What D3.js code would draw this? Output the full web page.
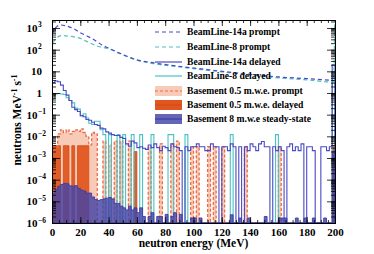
<!DOCTYPE html>
<html>
<head>
<meta charset="utf-8">
<script src="https://cdn.jsdelivr.net/npm/d3@7"></script>
<style>
  body { margin: 0; background: #fff; }
  svg { display: block; }
  text { font-family: "Liberation Serif", "Times New Roman", serif; font-weight: bold; }
</style>
</head>
<body>
<div id="chart"></div>
<script>
// histogram bins: 2 MeV wide, 0..200 MeV
const binWidth = 2;
const nBins = 100;

// BeamLine prompt spectra (smooth curves) : energy / value pairs
const bl14aPromptE = [0, 1.5, 3, 6, 10, 15, 20, 25, 30, 35, 40, 50, 60, 73, 90, 110, 130, 150, 160, 180, 199];
const bl14aPromptV = [500, 800, 1100, 1380, 1250, 950, 600, 420, 280, 170, 118, 60, 34, 24, 17, 12, 8.5, 6.3, 5.5, 4.6, 3.8];
const bl8PromptE = [0, 1.5, 3, 7, 12, 20, 27, 33, 40, 50, 60, 73, 90, 110, 130, 150, 160, 180, 199, 200];
const bl8PromptV = [100, 260, 340, 450, 420, 330, 200, 140, 110, 57, 33, 22, 16, 11, 8, 5.8, 5, 4, 3.2, 1e5];

// delayed / basement histograms (per 2 MeV bin, 0 = empty bin)
const bl14aDelayed = [
  3.0, 3.6, 3.3, 2.3, 1.3, 0.8, 0.45, 0.22, 0.17, 0.14,
  0.09, 0.08, 0.06, 0.055, 0.045, 0.035, 0.032, 0.024, 0.022, 0.016,
  0.014, 0.012, 0.011, 0.011, 0.009, 0.008, 0.0045, 0.0035, 0.006, 0.005,
  0.003, 0.0033, 0.0028, 0.0025, 0.004, 0.003, 0.0045, 0.003, 0.0022, 0.0035,
  0.003, 0.0022, 0.0045, 0.0033, 0.003, 0.0022, 0, 0.0033, 0.0022, 0.0033,
  0.0033, 0.0045, 0.0033, 0.0033, 0.0022, 0.0022, 0.0045, 0.0033, 0.0033, 0,
  0.0033, 0.0033, 0.0022, 0.0045, 0.0033, 0, 0.0033, 0, 0.0033, 0.0022,
  0.0045, 0.0033, 0.0022, 0.0045, 0.0058, 0.0033, 0.0033, 0, 0.0033, 0.0022,
  0.0033, 0.0022, 0, 0.0033, 0.0045, 0.0022, 0.0033, 0.0022, 0.0045, 0,
  0.0033, 0.0033, 0.0022, 0, 0, 0.0033, 0.0033, 0.0022, 0.0033, 20
];
const bl8Delayed = [
  0.55, 0.9, 0.95, 0.9, 0.85, 0.6, 0.45, 0.35, 0.2, 0.18,
  0.09, 0.11, 0.07, 0.04, 0.035, 0.05, 0.05, 0.02, 0.012, 0,
  0.012, 0, 0, 0.012, 0, 0.012, 0, 0, 0.012, 0,
  0, 0.012, 0, 0, 0, 0.012, 0, 0, 0, 0,
  0, 0.012, 0.012, 0, 0, 0, 0, 0.012, 0, 0,
  0, 0, 0, 0, 0, 0, 0, 0, 0, 0,
  0, 0, 0, 0.012, 0, 0, 0, 0, 0, 0,
  0, 0, 0, 0, 0, 0, 0, 0, 0, 0.012,
  0, 0, 0, 0, 0, 0, 0, 0, 0, 0,
  0, 0, 0, 0, 0, 0, 0, 0, 0, 5
];
const basementPrompt = [
  0.002, 0.003, 0.013, 0.02, 0.015, 0.02, 0.013, 0.017, 0.02, 0.017,
  0.022, 0.015, 0.01, 0.004, 0.015, 0.013, 0, 0, 0.006, 0,
  0.004, 0, 0.006, 0, 0.006, 0, 0, 0.006, 0, 0,
  0, 0, 0, 0, 0.0033, 0, 0, 0, 0.0045, 0,
  0, 0, 0.0045, 0, 0.006, 0, 0, 0, 0, 0.0033,
  0, 0.0033, 0, 0, 0, 0.0033, 0, 0.0033, 0, 0,
  0.0033, 0, 0, 0, 0, 0, 0, 0, 0.0033, 0,
  0, 0, 0, 0, 0, 0, 0, 0, 0, 0,
  0.0033, 0, 0, 0, 0, 0, 0, 0, 0, 0,
  0, 0, 0, 0, 0, 0, 0, 0, 0, 0
];
const basementDelayed = [
  0.0037, 0.0037, 0.0037, 0, 0.0037, 0.0037, 0, 0.0037, 0, 0.0037,
  0.0037, 0.0037, 0.0037, 0, 0, 0, 0, 0, 0, 0,
  0, 0, 0, 0, 0, 0, 0, 0, 0, 0.002,
  0, 0, 0, 0, 0, 0, 0, 0, 0, 0,
  0, 0, 0, 0, 0, 0, 0, 0, 0, 0,
  0, 0, 0, 0, 0, 0, 0, 0, 0, 0,
  0, 0, 0, 0, 0, 0, 0, 0, 0, 0,
  0, 0, 0, 0, 0, 0, 0, 0, 0, 0,
  0, 0, 0, 0, 0, 0, 0, 0, 0, 0,
  0, 0, 0, 0, 0, 0, 0, 0, 0, 0.0037
];
const steadyState = [
  2.3e-5, 3.5e-5, 5e-5, 6e-5, 6.7e-5, 6.5e-5, 5.2e-5, 5e-5, 5.3e-5, 4e-5,
  3.3e-5, 3e-5, 2.4e-5, 2.4e-5, 1.6e-5, 1.2e-5, 1.1e-5, 1.2e-5, 1.3e-5, 1.4e-5,
  1.5e-5, 1.3e-5, 8e-6, 8e-6, 6e-6, 5e-6, 4e-6, 6e-6, 4e-6, 5e-6,
  3e-6, 5e-6, 2e-6, 0, 2e-6, 3e-6, 0, 2e-6, 2e-6, 0,
  2.5e-6, 0, 2e-6, 3e-6, 0, 2.5e-6, 0, 0, 0, 1.7e-6,
  1.7e-6, 0, 1.7e-6, 0, 0, 0, 0, 0, 0, 0,
  0, 0, 0, 2.4e-6, 0, 0, 1.7e-6, 0, 0, 1.7e-6,
  0, 0, 0, 0, 0, 2e-6, 0, 0, 0, 0,
  1.7e-6, 1.7e-6, 1.7e-6, 0, 0, 0, 1.7e-6, 0, 0, 1.7e-6,
  0, 0, 1.7e-6, 0, 0, 0, 1.7e-6, 0, 0, 0.002
];

const xTicks = [0, 20, 40, 60, 80, 100, 120, 140, 160, 180, 200];
const yExponents = [3, 2, 1, 0, -1, -2, -3, -4, -5, -6];

const legendLabels = [
  "BeamLine-14a prompt",
  "BeamLine-8 prompt",
  "BeamLine-14a delayed",
  "BeamLine-8 delayed",
  "Basement 0.5 m.w.e. prompt",
  "Basement 0.5 m.w.e. delayed",
  "Basement 8 m.w.e steady-state"
];

// colours
const cBlue = "#4a4ac6";
const cCyan = "#4cc2c2";
const cSalmonFill = "#f7cbb8";
const cSalmonLine = "#ee6a43";
const cOrange = "#e0561f";
const cPurple = "#4343a6";

// SETUP
const W = 374, H = 254;
const plotL = 52, plotR = 335, plotT = 20, plotB = 223;

const svg = d3.select("#chart").append("svg").attr("width", W).attr("height", H);

const x = d3.scaleLinear().domain([0, 200]).range([plotL, plotR]);
const y = d3.scaleLog().domain([1e-6, 2340]).range([plotB, plotT]);
const yBottom = y(1e-6);

svg.append("clipPath").attr("id", "clip")
  .append("rect")
  .attr("x", plotL).attr("y", plotT)
  .attr("width", plotR - plotL).attr("height", plotB - plotT);

const plot = svg.append("g").attr("clip-path", "url(#clip)");

// step outline for a histogram
function stepPoints(vals) {
  const pts = [[x(0), yBottom]];
  vals.forEach((v, i) => {
    const yy = v > 0 ? y(v) : yBottom;
    pts.push([x(i * binWidth), yy], [x((i + 1) * binWidth), yy]);
  });
  pts.push([x(nBins * binWidth), yBottom]);
  return pts;
}
const lineGen = d3.line();

// basement 0.5 m.w.e. prompt (light fill + dashed outline)
plot.append("path")
  .attr("d", lineGen(stepPoints(basementPrompt)) + "Z")
  .attr("fill", cSalmonFill)
  .attr("stroke", "none");

// basement delayed
plot.append("path")
  .attr("d", lineGen(stepPoints(basementDelayed)) + "Z")
  .attr("fill", cOrange)
  .attr("fill-opacity", 0.95)
  .attr("stroke", "#d44b18")
  .attr("stroke-width", 0.8);

plot.append("path")
  .attr("d", lineGen(stepPoints(basementPrompt)))
  .attr("fill", "none")
  .attr("stroke", cSalmonLine)
  .attr("stroke-width", 1.3)
  .attr("stroke-dasharray", "3,2");

// BeamLine delayed histograms
plot.append("path")
  .attr("d", lineGen(stepPoints(bl8Delayed)))
  .attr("fill", "none")
  .attr("stroke", cCyan)
  .attr("stroke-width", 1.1);

plot.append("path")
  .attr("d", lineGen(stepPoints(bl14aDelayed)))
  .attr("fill", "none")
  .attr("stroke", cBlue)
  .attr("stroke-width", 1.1);

// basement 8 m.w.e. steady-state
plot.append("path")
  .attr("d", lineGen(stepPoints(steadyState)) + "Z")
  .attr("fill", cPurple)
  .attr("fill-opacity", 0.82)
  .attr("stroke", "#3c3ca8")
  .attr("stroke-width", 0.9);

// prompt curves
const curve = d3.line()
  .x(d => x(d[0]))
  .y(d => y(d[1]))
  .curve(d3.curveMonotoneX);

plot.append("path")
  .attr("d", curve(bl8PromptE.map((e, i) => [e, bl8PromptV[i]])))
  .attr("fill", "none")
  .attr("stroke", cCyan)
  .attr("stroke-width", 1.2)
  .attr("stroke-dasharray", "4,3");

plot.append("path")
  .attr("d", curve(bl14aPromptE.map((e, i) => [e, bl14aPromptV[i]])))
  .attr("fill", "none")
  .attr("stroke", cBlue)
  .attr("stroke-width", 1.2)
  .attr("stroke-dasharray", "4,3");

// AXES
const minorX = d3.range(0, 201, 5);
const minorY = [];
for (let e = -6; e < 4; e++) {
  for (let m = 1; m < 10; m++) {
    const v = m * Math.pow(10, e);
    if (v >= 1e-6 && v <= 2340) minorY.push(v);
  }
}
const majorY = yExponents.map(e => Math.pow(10, e));

function tickAxis(axis, transform) {
  const g = svg.append("g").attr("transform", transform).call(axis);
  g.select(".domain").remove();
  g.selectAll("line").attr("stroke", "#000").attr("stroke-width", 0.8);
  return g;
}

tickAxis(d3.axisBottom(x).tickValues(minorX).tickSize(-3).tickFormat(""), `translate(0,${plotB})`);
tickAxis(d3.axisBottom(x).tickValues(xTicks).tickSize(-6).tickFormat(""), `translate(0,${plotB})`);
tickAxis(d3.axisTop(x).tickValues(minorX).tickSize(-3).tickFormat(""), `translate(0,${plotT})`);
tickAxis(d3.axisTop(x).tickValues(xTicks).tickSize(-6).tickFormat(""), `translate(0,${plotT})`);

tickAxis(d3.axisLeft(y).tickValues(minorY).tickSize(-4).tickFormat(""), `translate(${plotL},0)`);
tickAxis(d3.axisLeft(y).tickValues(majorY).tickSize(-8).tickFormat(""), `translate(${plotL},0)`);
tickAxis(d3.axisRight(y).tickValues(minorY).tickSize(-4).tickFormat(""), `translate(${plotR},0)`);
tickAxis(d3.axisRight(y).tickValues(majorY).tickSize(-8).tickFormat(""), `translate(${plotR},0)`);

// x tick labels
const xLab = svg.append("g")
  .attr("transform", `translate(0,${plotB})`)
  .call(d3.axisBottom(x).tickValues(xTicks).tickSize(0).tickPadding(5).tickFormat(d3.format("d")));
xLab.select(".domain").remove();
xLab.selectAll("text")
  .attr("font-size", 11)
  .attr("font-family", "Liberation Serif")
  .attr("font-weight", "bold")
  .attr("fill", "#000");

// y tick labels with superscripts
yExponents.forEach(e => {
  const yy = y(Math.pow(10, e)) + 4;
  if (e === 0 || e === 1) {
    svg.append("text")
      .attr("x", 42).attr("y", yy)
      .attr("text-anchor", "end")
      .attr("font-size", 11)
      .text(e === 0 ? "1" : "10");
  } else {
    svg.append("text")
      .attr("x", 37.5).attr("y", yy)
      .attr("text-anchor", "end")
      .attr("font-size", 11)
      .text("10");
    svg.append("text")
      .attr("x", 38).attr("y", yy - 4.5)
      .attr("font-size", 7.5)
      .text(e < 0 ? "\u2212" + (-e) : String(e));
  }
});

// frame
svg.append("rect")
  .attr("x", plotL).attr("y", plotT)
  .attr("width", plotR - plotL).attr("height", plotB - plotT)
  .attr("fill", "none")
  .attr("stroke", "#000")
  .attr("stroke-width", 1)
  .attr("shape-rendering", "crispEdges");

// axis titles
svg.append("text")
  .attr("x", (plotL + plotR) / 2).attr("y", 247)
  .attr("text-anchor", "middle")
  .attr("font-size", 11.5)
  .text("neutron energy (MeV)");

const yTitle = svg.append("text")
  .attr("transform", "translate(21,120) rotate(-90)")
  .attr("text-anchor", "middle")
  .attr("font-size", 11.5);
yTitle.append("tspan").text("neutrons MeV");
yTitle.append("tspan").attr("dy", -4.5).attr("font-size", 8).text("-1");
yTitle.append("tspan").attr("dy", 4.5).text(" s");
yTitle.append("tspan").attr("dy", -4.5).attr("font-size", 8).text("-1");

// LEGEND
const legX0 = 155, legX1 = 182, legTextX = 187;
const legY = [32, 47, 62, 76, 91, 105, 119];
const legend = svg.append("g");

legendLabels.forEach((lab, i) => {
  const cy = legY[i];
  if (i === 0 || i === 1) {
    legend.append("line")
      .attr("x1", legX0).attr("x2", legX1).attr("y1", cy).attr("y2", cy)
      .attr("stroke", i === 0 ? cBlue : cCyan)
      .attr("stroke-width", 1.2)
      .attr("stroke-dasharray", "4,3");
  } else if (i === 2 || i === 3) {
    legend.append("line")
      .attr("x1", legX0).attr("x2", legX1).attr("y1", cy).attr("y2", cy)
      .attr("stroke", i === 2 ? cBlue : cCyan)
      .attr("stroke-width", 1.2);
  } else {
    const fills = [cSalmonFill, cOrange, cPurple];
    const strokes = [cSalmonLine, "#d44b18", "#3c3ca8"];
    const k = i - 4;
    legend.append("rect")
      .attr("x", legX0).attr("y", cy - 5)
      .attr("width", legX1 - legX0).attr("height", 10)
      .attr("fill", fills[k])
      .attr("fill-opacity", k === 2 ? 0.82 : 1);
    legend.append("line")
      .attr("x1", legX0).attr("x2", legX1).attr("y1", cy).attr("y2", cy)
      .attr("stroke", strokes[k])
      .attr("stroke-width", 1.2)
      .attr("stroke-dasharray", k === 0 ? "3,2" : null);
  }
  legend.append("text")
    .attr("x", legTextX).attr("y", cy + 3.3)
    .attr("font-size", 9.6)
    .text(lab);
});
</script>
</body>
</html>
